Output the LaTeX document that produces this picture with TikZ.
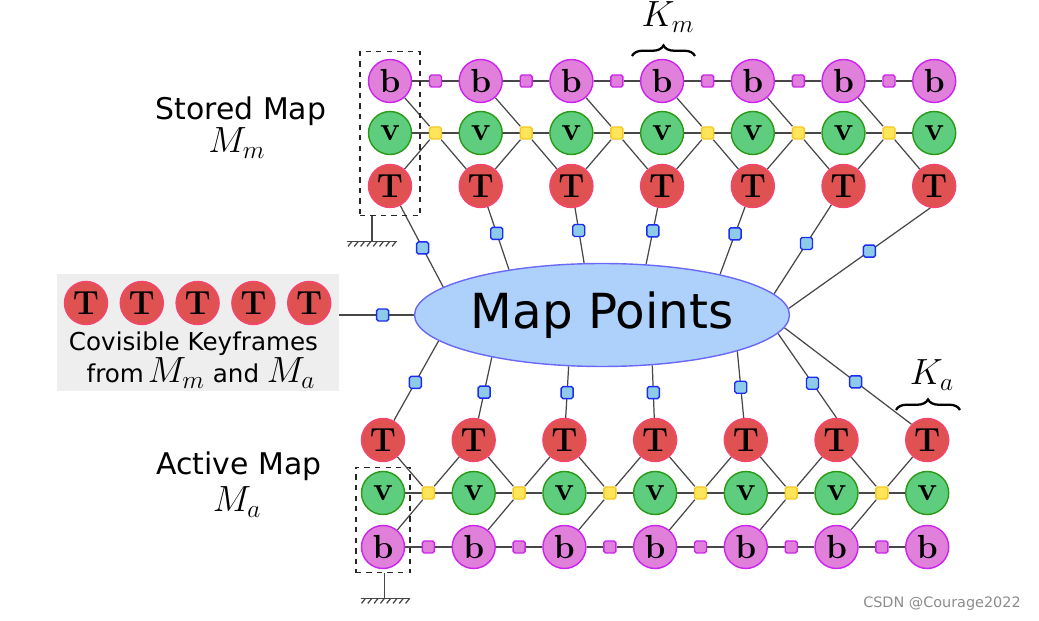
\documentclass[tikz,border=0pt]{standalone}
\usepackage{fontspec}
\newfontfamily\labelfont{DejaVu Sans}
\usetikzlibrary{positioning,shapes.geometric,fit,backgrounds,calc,decorations.pathreplacing}

\definecolor{bfill}{HTML}{E080DA}
\definecolor{bdraw}{HTML}{CC22EE}
\definecolor{vfill}{HTML}{5ECE7E}
\definecolor{vdraw}{HTML}{2A9A16}
\definecolor{tfill}{HTML}{E05252}
\definecolor{tdraw}{HTML}{F5456E}
\definecolor{yfill}{HTML}{FFE55A}
\definecolor{ydraw}{HTML}{F5C820}
\definecolor{qfill}{HTML}{8DCBE8}
\definecolor{qdraw}{HTML}{1C2CF0}
\definecolor{mpfill}{HTML}{ADD1FB}
\definecolor{mpdraw}{HTML}{6B68F5}
\definecolor{boxgray}{HTML}{EEEEEE}

\begin{document}
\begin{tikzpicture}[
  x=0.02cm, y=-0.02cm,
  kf/.style={circle, minimum size=0.86cm, inner sep=0pt, line width=0.8pt,
    font=\fontsize{19}{19}\selectfont\bfseries},
  bnode/.style={kf, draw=bdraw, fill=bfill},
  vnode/.style={kf, draw=vdraw, fill=vfill},
  tnode/.style={kf, draw=tdraw, fill=tfill},
  fac/.style={rectangle, rounded corners=1pt, minimum size=0.24cm, inner sep=0pt, line width=0.8pt},
  mfac/.style={fac, draw=bdraw, fill=bfill},
  yfac/.style={fac, draw=ydraw, fill=yfill},
  pfac/.style={fac, draw=qdraw, fill=qfill},
  link/.style={draw=black!72, line width=0.7pt},
  mpnode/.style={ellipse, draw=mpdraw, fill=mpfill, line width=0.8pt, inner sep=0pt,
    minimum width=7.5cm, minimum height=2.06cm, font=\labelfont\fontsize{27.5}{30}\selectfont},
  lbl/.style={font=\labelfont\fontsize{17}{20}\selectfont, anchor=base, inner sep=0pt},
  smalllbl/.style={font=\labelfont\fontsize{14}{16}\selectfont, anchor=base, inner sep=0pt},
  mlbl/.style={font=\fontsize{20}{22}\selectfont, anchor=base, inner sep=0pt},
  brc/.style={decorate, decoration={brace, amplitude=6pt}, line width=1.3pt},
  selbox/.style={draw=black!85, dashed, line width=0.8pt}
]
  \useasboundingbox (0,0) rectangle (1039,621);

  % stored map
  \foreach \i in {0,...,6} {
    \node[bnode] (sb\i) at (390+90.7*\i, 81) {b};
    \node[vnode] (sv\i) at (390+90.7*\i, 133) {v};
    \node[tnode] (st\i) at (390+90.7*\i, 186) {T};
  }
  \foreach \i in {0,...,5} {
    \node[mfac] (sm\i) at (435.5+90.7*\i, 81) {};
    \node[yfac] (sy\i) at (435.5+90.7*\i, 133) {};
  }

  % active map
  \foreach \i in {0,...,6} {
    \node[tnode] (at\i) at (383+90.7*\i, 440) {T};
    \node[vnode] (av\i) at (383+90.7*\i, 493) {v};
    \node[bnode] (ab\i) at (383+90.7*\i, 547) {b};
  }
  \foreach \i in {0,...,5} {
    \node[yfac] (ay\i) at (428.4+90.7*\i, 493) {};
    \node[mfac] (am\i) at (428.4+90.7*\i, 547) {};
  }

  \node[mpnode] (mp) at (602,315) {Map Points};

  % covisible keyframes
  \foreach \i in {0,...,4}
    \node[tnode] (kt\i) at (86+55.8*\i, 303) {T};
  \node[smalllbl] (covis) at (193.5,350.7) {Covisible Keyframes};
  \node[smalllbl] (covfrom) at (201,383)
    {from\,{\fontsize{20}{22}\selectfont$M_m$} and {\fontsize{20}{22}\selectfont$M_a$}};

  % labels
  \node[lbl] (stored) at (241,120) {Stored Map};
  \node[mlbl] (storedm) at (237,153) {$M_m$};
  \node[lbl] (active) at (239,475) {Active Map};
  \node[mlbl] (activem) at (237,512) {$M_a$};
  \node[mlbl] (km) at (668,27) {$K_m$};
  \node[mlbl] (ka) at (932,385) {$K_a$};

  \draw[brc] (632,56) -- (695,56);
  \draw[brc] (896,410) -- (960,410);

  % fixed keyframes
  \node[selbox, fit=(sb0)(st0), inner xsep=0.16cm, inner ysep=0.15cm] (sbox) {};
  \node[selbox, fit=(av0)(ab0), inner xsep=0.1cm, inner ysep=0.07cm] (abox) {};
  \draw[link] ($(sbox.south)+(-18,0)$) -- ++(0,25) coordinate (sgnd);
  \draw[link] ($(sgnd)+(-25,0)$) -- ++(50,0);
  \foreach \k in {0,...,7}
    \draw[link] ($(sgnd)+(-20+6.3*\k,0)$) -- ++(-4,5);
  \draw[link] ($(abox.south)+(1.5,0)$) -- ++(0,25) coordinate (agnd);
  \draw[link] ($(agnd)+(-24,0)$) -- ++(49,0);
  \foreach \k in {0,...,7}
    \draw[link] ($(agnd)+(-19+6.3*\k,0)$) -- ++(-4,5);

  \node[font=\labelfont\fontsize{8.2}{10}\selectfont, text=black!45, anchor=base] (wm)
    at (942,608) {CSDN @Courage2022};

  \begin{scope}[on background layer]
    \node[fill=boxgray, fit={(57,274) (339,391)}, inner sep=0pt] (kfbox) {};
    \draw[link] (mp.west) -- (mp.west -| kfbox.east) node[pfac, pos=0.42] (pk) {};

    \foreach \i [count=\j] in {0,...,5} {
      \draw[link] (sb\i) -- (sm\i) -- (sb\j);
      \draw[link] (sv\i) -- (sy\i) -- (sv\j);
      \draw[link] (sb\i) -- (sy\i);
      \draw[link] (st\i) -- (sy\i) -- (st\j);
      \draw[link] (ab\i) -- (am\i) -- (ab\j);
      \draw[link] (av\i) -- (ay\i) -- (av\j);
      \draw[link] (ab\i) -- (ay\i);
      \draw[link] (at\i) -- (ay\i) -- (at\j);
    }

    % keyframes to map points
    \foreach \i/\a/\p in {0/170/0.52, 1/154/0.42, 2/109/0.41, 3/49/0.41, 4/19/0.40, 5/7/0.435}
      \draw[link] (st\i) -- (mp.\a) node[pfac, pos=\p] (sp\i) {};
    \draw[link] (st6.260) -- (mp.2) node[pfac, pos=0.43] (sp6) {};
    \foreach \i/\a/\p in {0/189/0.48, 1/201/0.43, 2/237/0.49, 3/315/0.48, 4/345/0.46}
      \draw[link] (at\i) -- (mp.\a) node[pfac, pos=\p] (ap\i) {};
    \draw[link] (at5.north) -- (mp.354) node[pfac, pos=0.41] (ap5) {};
    \draw[link] (at6.135) -- (mp.356) node[pfac, pos=0.44] (ap6) {};
  \end{scope}
\end{tikzpicture}
\end{document}
